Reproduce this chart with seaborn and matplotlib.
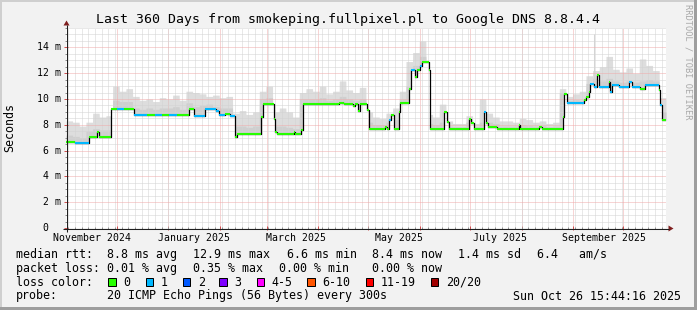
import numpy as np
import pandas as pd
import matplotlib
matplotlib.use("Agg")
import matplotlib.pyplot as plt
import seaborn as sns
from matplotlib.patches import Rectangle, Polygon

# ---------------- data (days since start of the 360-day window, RTT in ms) ----------------
median_days = [0, 5.4, 13.8, 18.6, 19.8, 27.0, 30.6, 34.6, 40.8, 48.6,
               53.6, 57.6, 61.6, 66.6, 73.6, 77.0, 83.2,
               90.0, 91.6, 95.6, 98.6, 101.2, 102.6, 117.0, 118.2, 124.6, 125.6,
               126.6, 136.6, 137.6, 141.2, 142.2, 163.6, 166.6, 172.0, 173.2, 175.2,
               176.2, 180.6, 181.6, 191.6, 192.6, 193.6, 195.2, 197.0, 199.6, 200.6,
               205.6, 207.2, 209.2, 210.6, 212.6, 213.6, 217.6, 218.2, 226.6, 228.6,
               229.6, 241.6, 243.2, 244.6, 250.6, 252.0, 253.2, 258.6, 271.6, 272.6,
               283.6, 285.6, 298.0, 299.0, 300.6, 310.6, 312.0, 313.6, 314.6, 317.0,
               318.6, 319.6, 325.6, 326.6, 327.6, 331.6, 337.6, 339.6, 344.6, 347.6,
               355.6, 356.6, 357.4]
median_vals = [6.65, 6.55, 7.06, 7.45, 7.06, 9.26, 9.26, 9.26, 8.77, 8.77,
               8.77, 8.79, 8.79, 8.79, 9.26, 8.69, 9.26,
               9.05, 8.74, 8.87, 8.69, 7.06, 7.32, 8.61, 9.59, 8.48, 7.45,
               7.27, 7.45, 7.27, 7.58, 9.59, 9.72, 9.59, 9.43, 9.59, 9.07,
               9.59, 9.13, 7.71, 7.80, 7.71, 8.35, 8.74, 7.71, 9.00, 9.69,
               10.80, 12.22, 11.70, 12.22, 12.53, 12.86, 12.22, 7.71, 9.00, 8.22,
               7.71, 8.48, 8.14, 7.71, 9.00, 8.10, 7.84, 7.71, 7.95, 7.71,
               7.84, 7.71, 8.61, 10.42, 9.72, 9.90, 10.16, 10.54, 11.19, 10.93,
               11.83, 10.93, 11.32, 10.54, 11.06, 10.93, 11.32, 10.93, 10.80, 11.06,
               10.72, 9.51, 8.35]
median_loss = [0, 1, 0, 0, 0, 0, 1, 0, 1, 0,
               1, 0, 1, 0, 0, 1, 1,
               1, 1, 0, 1, 0, 0, 0, 0, 0, 0,
               0, 0, 0, 0, 0, 0, 0, 0, 0, 0,
               0, 0, 0, 0, 0, 1, 0, 0, 0, 0,
               0, 1, 0, 0, 1, 0, 0, 0, 0, 0,
               0, 0, 0, 0, 1, 0, 0, 0, 0, 0,
               0, 0, 0, 0, 1, 0, 0, 0, 1, 1,
               0, 1, 0, 1, 1, 1, 1, 1, 0, 1,
               0, 1, 0]
end_day = 360

# smoke (upper envelope and inner darker band), one value per 4-day bin
smoke_top = [8.3, 8.2, 7.9, 8.2, 8.9, 8.6, 8.7, 11.0, 10.6, 10.8,
             10.2, 9.9, 10.0, 9.8, 10.1, 10.0, 10.3, 9.9, 10.6, 10.5,
             10.4, 10.2, 10.3, 10.1, 10.2, 8.9, 9.1, 8.8, 9.0, 10.6,
             11.0, 9.0, 9.3, 9.0, 8.6, 10.5, 10.8, 10.6, 11.0, 10.4,
             10.6, 11.4, 10.7, 10.5, 10.9, 9.0, 8.6, 8.5, 8.9, 9.3,
             10.6, 12.9, 13.6, 14.5, 8.8, 8.6, 9.6, 8.3, 8.1, 8.1,
             8.7, 8.1, 10.0, 8.9, 8.6, 8.3, 8.3, 8.2, 8.5, 8.4,
             8.2, 8.3, 8.1, 8.2, 10.8, 10.2, 10.4, 10.6, 11.8, 12.2,
             12.5, 13.3, 12.3, 12.1, 12.4, 12.0, 13.1, 12.6, 12.2, 10.1]
smoke_mid = [7.2, 7.1, 7.0, 7.5, 7.7, 7.6, 7.6, 9.9, 9.8, 9.8,
             9.3, 9.2, 9.3, 9.2, 9.3, 9.3, 9.4, 9.2, 9.7, 9.4,
             9.5, 9.6, 9.4, 9.3, 9.3, 7.9, 7.9, 7.8, 7.9, 10.0,
             10.1, 7.9, 7.9, 7.8, 7.7, 10.0, 10.0, 10.0, 10.1, 9.9,
             10.0, 10.2, 10.0, 9.9, 10.0, 8.2, 8.0, 8.0, 8.2, 8.4,
             10.0, 11.0, 12.6, 13.3, 8.1, 8.0, 8.2, 7.9, 7.85, 7.85,
             8.2, 7.85, 8.2, 8.2, 8.1, 7.9, 7.9, 7.9, 8.0, 7.95,
             7.9, 7.95, 7.85, 7.9, 10.5, 9.9, 9.95, 9.9, 11.2, 11.6,
             11.4, 11.6, 11.4, 11.3, 11.4, 11.3, 11.4, 11.5, 11.4, 9.0]
smoke_bin_days = 4
spike_days = [316.8]
spike_tops = [15.06]

# axis labels / grid
month_start_days = [30.34, 61.34, 92.34, 120.34, 151.30, 181.30, 212.30,
                    242.30, 273.30, 304.30, 334.30]
minor_grid_start = 1.344
month_label_days = [15.6, 76.9, 138.2, 199.7, 260.4, 322.6]
month_labels = ["November 2024", "January 2025", "March 2025",
                "May 2025", "July 2025", "September 2025"]
ytick_vals = [0, 2, 4, 6, 8, 10, 12, 14]
ytick_labels = ["0", "2 m", "4 m", "6 m", "8 m", "10 m", "12 m", "14 m"]

title = "Last 360 Days from smokeping.fullpixel.pl to Google DNS 8.8.4.4"
legend_line1 = [("median rtt:  8.8 ms avg", 16), ("12.9 ms max", 193.3),
                ("6.6 ms min", 286.7), ("8.4 ms now", 372.3),
                ("1.4 ms sd", 458.3), ("6.4   am/s", 536.7)]
legend_line2 = [("packet loss: 0.01 % avg", 16), ("0.35 % max", 193.3),
                ("0.00 % min", 279.3), ("0.00 % now", 372.3)]
loss_labels = ["0", "1", "2", "3", "4-5", "6-10", "11-19", "20/20"]
loss_box_x = [108.3, 145.7, 182.7, 219.3, 256.7, 307.3, 365.7, 430.7]
loss_colors = ["#26ff00", "#00b8ff", "#0059ff", "#7e00ff",
               "#ff00ff", "#ff5500", "#ff0000", "#a10000"]
probe_text = "20 ICMP Echo Pings (56 Bytes) every 300s"
stamp_text = "Sun Oct 26 15:44:16 2025"

# ---------------- figure ----------------
sns.set_theme(style="white")
plt.rcParams['font.family'] = ['DejaVu Sans Mono', 'DejaVu Sans']

W, H = 697, 310
X0, Y0, PW, PH = 66, 228, 600, 200
YMAX = 15.5
fig = plt.figure(figsize=(W / 100, H / 100), dpi=100)
fig.patch.set_facecolor('#F2F2F2')

ax = fig.add_axes([X0 / W, 1 - Y0 / H, PW / W, PH / H])
ax.set_facecolor('white')
ax.set_xlim(0, end_day)
ax.set_ylim(0, YMAX)
for s in ax.spines.values():
    s.set_visible(False)

GRID = '#d3d3d3'
MGRID = '#f0aaaa'
ax.set_xticks(month_start_days)
ax.set_xticks(np.arange(minor_grid_start, end_day, 4), minor=True)
ax.set_yticks(ytick_vals)
ax.set_yticks(np.arange(0, YMAX + 0.01, 0.5), minor=True)
ax.tick_params(which='both', labelleft=False, labelbottom=False,
               direction='inout', left=True, bottom=True, top=False, right=False)
ax.tick_params(which='major', length=2.4, width=0.72, color='#d05050')
ax.tick_params(which='minor', length=1.5, width=0.72, color='#909090')
ax.set_axisbelow(False)
ax.grid(which='minor', color=GRID, linestyle=(0, (1, 1)), linewidth=0.72)
ax.grid(which='major', color=MGRID, linestyle=(0, (1, 1)), linewidth=0.72)

# smoke
t = np.linspace(0, end_day, 3601)
idx = np.searchsorted(median_days, t, side='right') - 1
med_t = np.asarray(median_vals)[idx]
b = np.minimum((t // smoke_bin_days).astype(int), len(smoke_top) - 1)
top_t = np.maximum(np.asarray(smoke_top)[b], med_t)
mid_t = np.clip(np.asarray(smoke_mid)[b], med_t, top_t)
ax.fill_between(t, med_t, top_t, color='#dddddd', lw=0, zorder=1)
ax.fill_between(t, med_t, mid_t, color='#cfcfcf', lw=0, zorder=1.1)
for d, v in zip(spike_days, spike_tops):
    m = median_vals[np.searchsorted(median_days, d, side='right') - 1]
    ax.vlines(d, m, v, color='#d4d4d4', lw=0.75, zorder=1.2)

# median line (black steps) with loss-coloured levels
df = pd.DataFrame({'day': median_days + [end_day],
                   'rtt': median_vals + [median_vals[-1]]})
sns.lineplot(data=df, x='day', y='rtt', drawstyle='steps-post', color='black',
             lw=0.9, estimator=None, ax=ax, zorder=3)
ax.set_xlabel('')
ax.set_ylabel('')
seg_end = median_days[1:] + [end_day]
ax.hlines(median_vals, median_days, seg_end,
          colors=[loss_colors[l] for l in median_loss], lw=1.5, zorder=4)

# tick labels
AX_FS = 7.12
for v, lab in zip(ytick_vals, ytick_labels):
    width_chars = max(len(lab), 3)
    xl = 60.6 - 5.95 * width_chars
    ax.text((xl - X0) / PW, v, lab, transform=ax.get_yaxis_transform(),
            ha='left', va='center', fontsize=AX_FS, color='black')
for d, lab in zip(month_label_days, month_labels):
    ax.text(d, -(237.7 - Y0) / PH, lab, transform=ax.get_xaxis_transform(),
            ha='center', va='center', fontsize=AX_FS, color='black')

# overlay in pixel coordinates
ov = fig.add_axes([0, 0, 1, 1], facecolor='none')
ov.set_xlim(0, W)
ov.set_ylim(H, 0)
ov.axis('off')

# 3D border
ov.add_patch(Rectangle((0, 0), W, 2, color='#CFCFCF', lw=0))
ov.add_patch(Rectangle((0, 0), 2, H, color='#CFCFCF', lw=0))
ov.add_patch(Rectangle((0, H - 3), W, 3, color='#9E9E9E', lw=0))
ov.add_patch(Rectangle((W - 3, 0), 3, H, color='#9E9E9E', lw=0))

# axes with arrows
AXIS = '#1f1f1f'
ARROW = '#801f1f'
ov.plot([62.5, 669], [228.5, 228.5], color=AXIS, lw=0.75, solid_capstyle='butt')
ov.plot([66.5, 66.5], [231.5, 25], color=AXIS, lw=0.75, solid_capstyle='butt')
ov.add_patch(Polygon([(668.5, 225.5), (673.5, 228.5), (668.5, 231.5)], closed=True,
                     color=ARROW, lw=0))
ov.add_patch(Polygon([(63.5, 25.5), (66.5, 20.5), (69.5, 25.5)], closed=True,
                     color=ARROW, lw=0))

# title, labels
ov.text(348, 19, title, ha='center', va='center', fontsize=9.53, color='black')
ov.text(10, 128, "Seconds", ha='center', va='center', rotation=90,
        fontsize=8.37, color='black')
ov.text(688, 62, "RRDTOOL / TOBI OETIKER", ha='center', va='center',
        rotation=270, fontsize=6.2, color='#a8a8a8')

LG_FS = 8.37
for s, x in legend_line1:
    ov.text(x, 254.3, s, ha='left', va='center', fontsize=LG_FS, color='black')
for s, x in legend_line2:
    ov.text(x, 268.3, s, ha='left', va='center', fontsize=LG_FS, color='black')
ov.text(16, 282.3, "loss color:", ha='left', va='center', fontsize=LG_FS, color='black')
for lab, bx, c in zip(loss_labels, loss_box_x, loss_colors):
    ov.add_patch(Rectangle((bx, 278.3), 7.5, 8, facecolor=c, edgecolor='black', lw=0.72))
    ov.text(bx + 15, 282.3, lab, ha='left', va='center', fontsize=LG_FS, color='black')
ov.text(16, 296, "probe:", ha='left', va='center', fontsize=LG_FS, color='black')
ov.text(107.3, 296, probe_text, ha='left', va='center', fontsize=LG_FS, color='black')
ov.text(513.3, 296, stamp_text, ha='left', va='center', fontsize=LG_FS, color='black')

fig.savefig('out.png', dpi=100, facecolor=fig.get_facecolor())
